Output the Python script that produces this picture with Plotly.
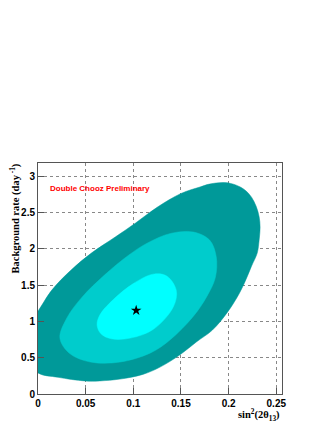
import plotly.graph_objects as go

DARK = "#009999"
MID = "#00cccc"
LIGHT = "#00ffff"

# contour boundaries (sin^2(2theta13), background rate)
outer_x = [0.0, 0.0145, 0.035, 0.056, 0.081, 0.102, 0.125, 0.150, 0.170, 0.180, 0.196,
           0.208, 0.217, 0.224, 0.229, 0.232, 0.233, 0.232, 0.230, 0.224, 0.218, 0.211,
           0.199, 0.183, 0.1665, 0.149, 0.128, 0.110, 0.086, 0.065, 0.049, 0.021, 0.0,
           -0.008, -0.012, -0.008]
outer_y = [1.14, 1.43, 1.71, 1.94, 2.16, 2.35, 2.57, 2.76, 2.85, 2.89, 2.91,
           2.875, 2.81, 2.71, 2.58, 2.44, 2.30, 2.12, 1.94, 1.76, 1.57, 1.38,
           1.13, 0.88, 0.72, 0.54, 0.37, 0.27, 0.205, 0.18, 0.18, 0.23, 0.29,
           0.45, 0.72, 1.0]

mid_x = [0.023, 0.030, 0.046, 0.070, 0.095, 0.115, 0.139, 0.163, 0.180, 0.187, 0.186,
         0.177, 0.163, 0.139, 0.118, 0.086, 0.055, 0.033]
mid_y = [0.77, 1.04, 1.33, 1.64, 1.91, 2.08, 2.21, 2.23, 2.12, 1.89, 1.60,
         1.34, 1.07, 0.75, 0.565, 0.44, 0.44, 0.56]

inner_x = [0.062, 0.065, 0.079, 0.100, 0.121, 0.135, 0.145, 0.142, 0.121, 0.097, 0.077,
           0.066]
inner_y = [0.95, 1.09, 1.30, 1.52, 1.65, 1.625, 1.43, 1.20, 0.89, 0.77, 0.76,
           0.83]

best_x = [0.103]
best_y = [1.15]

fig = go.Figure()
for xs, ys, color in [(outer_x, outer_y, DARK), (mid_x, mid_y, MID), (inner_x, inner_y, LIGHT)]:
    fig.add_trace(
        go.Scatter(
            x=xs + xs[:1],
            y=ys + ys[:1],
            mode="lines",
            fill="toself",
            fillcolor=color,
            line=dict(color=color, width=0.5, shape="spline", smoothing=1.0),
            hoverinfo="skip",
            showlegend=False,
        )
    )

fig.add_trace(
    go.Scatter(
        x=best_x,
        y=best_y,
        mode="markers",
        marker=dict(symbol="star", size=8, color="black"),
        showlegend=False,
    )
)

axis_common = dict(
    showline=True,
    linecolor="#555555",
    linewidth=1,
    mirror=True,
    ticks="inside",
    ticklen=6,
    tickcolor="#555555",
    showgrid=True,
    gridcolor="#888888",
    griddash="dot",
    gridwidth=1,
    zeroline=False,
    tickfont=dict(family="Liberation Sans", size=10, color="black", weight="bold"),
)

fig.update_xaxes(range=[0, 0.256], tickvals=[0, 0.05, 0.1, 0.15, 0.2, 0.25],
                 ticktext=["0", "0.05", "0.1", "0.15", "0.2", "0.25"], **axis_common)
fig.update_yaxes(range=[0, 3.18], tickvals=[0, 0.5, 1, 1.5, 2, 2.5, 3],
                 ticktext=["0", "0.5", "1", "1.5", "2", "2.5", "3"], **axis_common)

fig.add_annotation(
    x=0.01, y=2.83, xref="x", yref="y",
    text="Double Chooz Preliminary",
    showarrow=False, xanchor="left", yanchor="middle",
    font=dict(family="Liberation Sans", size=8, color="red", weight="bold"),
)
fig.add_annotation(
    x=-0.094, y=0.76, xref="paper", yref="paper",
    text="Background rate (day<sup> -1</sup>)",
    textangle=-90, showarrow=False, xanchor="center", yanchor="middle",
    font=dict(family="Liberation Serif", size=10.5, color="black", weight="bold"),
)
fig.add_annotation(
    x=1.0, y=-0.09, xref="paper", yref="paper",
    text="sin<sup>2</sup>(2θ<sub>13</sub>)",
    showarrow=False, xanchor="right", yanchor="middle",
    font=dict(family="Liberation Serif", size=10.5, color="black", weight="bold"),
)

# page body has an 8px margin on left/top, so the figure is shrunk by that amount
fig.update_layout(
    width=319,
    height=415,
    margin=dict(l=30, r=45, t=155, b=29),
    paper_bgcolor="white",
    plot_bgcolor="white",
)

fig.write_html("out.html")
